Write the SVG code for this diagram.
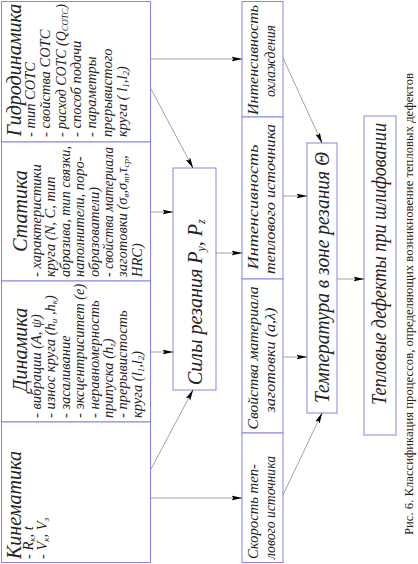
<svg xmlns="http://www.w3.org/2000/svg" width="418" height="564" viewBox="0 0 418 564">
<style>
.box{fill:#fff;stroke:#8585e6;stroke-width:1}
.t{font-family:"Liberation Serif","Times New Roman",serif;font-style:italic;fill:#222}
.ti{font-size:20px}
.b{font-size:14.5px}
.c{font-size:15px}
.cap{font-family:"Liberation Serif","Times New Roman",serif;font-size:12px;fill:#222}
.con{stroke:#999;stroke-width:0.9;fill:none;marker-end:url(#ah)}
</style>
<defs>
<marker id="ah" markerUnits="userSpaceOnUse" markerWidth="11" markerHeight="6" refX="10.5" refY="3" orient="auto">
<path d="M0,0.6 L11,3 L0,5.4 L2,3 Z" fill="#000"/>
</marker>
</defs>
<rect width="418" height="564" fill="#fff"/>

<g id="gidrodinamika">
<rect class="box" x="1.5" y="1.5" width="149" height="140.5"/>
<g transform="rotate(-90)" class="t">
<text class="ti" x="-70" y="21" text-anchor="middle">Гидродинамика</text>
<text class="b" x="-137" y="35">- тип СОТС</text>
<text class="b" x="-137" y="50.3">- свойства СОТС</text>
<text class="b" x="-137" y="65.6" textLength="133" lengthAdjust="spacingAndGlyphs">- расход СОТС (Q<tspan font-size="9" dy="2">СОТС</tspan><tspan dy="-2">)</tspan></text>
<text class="b" x="-137" y="80.9">- способ подачи</text>
<text class="b" x="-137" y="96.2">- параметры</text>
<text class="b" x="-137" y="111.5">прерывистого</text>
<text class="b" x="-137" y="126.8">круга ( l<tspan font-size="9" dy="2">1</tspan><tspan dy="-2">,l</tspan><tspan font-size="9" dy="2">2</tspan><tspan dy="-2">)</tspan></text>
</g>
</g>

<g id="statika">
<rect class="box" x="1.5" y="142" width="149" height="139"/>
<g transform="rotate(-90)" class="t">
<text class="ti" x="-211" y="27" text-anchor="middle">Статика</text>
<text class="b" x="-277" y="41">- характеристики</text>
<text class="b" x="-277" y="55.4">круга (N, C, тип</text>
<text class="b" x="-277" y="69.8" textLength="131" lengthAdjust="spacingAndGlyphs">абразива, тип связки,</text>
<text class="b" x="-277" y="84.2">наполнители, поро-</text>
<text class="b" x="-277" y="98.6">образователи)</text>
<text class="b" x="-277" y="113" textLength="130" lengthAdjust="spacingAndGlyphs">- свойства материала</text>
<text class="b" x="-277" y="127.4">заготовки (σ<tspan font-size="9" dy="2">в</tspan><tspan dy="-2">,σ</tspan><tspan font-size="9" dy="2">т</tspan><tspan dy="-2">,τ</tspan><tspan font-size="9" dy="2">ср</tspan><tspan dy="-2">,</tspan></text>
<text class="b" x="-277" y="141.8">HRC)</text>
</g>
</g>

<g id="dinamika">
<rect class="box" x="1.5" y="281" width="149" height="141"/>
<g transform="rotate(-90)" class="t">
<text class="ti" x="-350" y="27" text-anchor="middle">Динамика</text>
<text class="b" x="-418" y="41">- вибрации (A, ψ)</text>
<text class="b" x="-418" y="55.4">- износ круга (h<tspan font-size="9" dy="2">и</tspan><tspan dy="-2"> ,h</tspan><tspan font-size="9" dy="2">к</tspan><tspan dy="-2">)</tspan></text>
<text class="b" x="-418" y="69.8">- засаливание</text>
<text class="b" x="-418" y="84.2">- эксцентриситет (e)</text>
<text class="b" x="-418" y="98.6">- неравномерность</text>
<text class="b" x="-418" y="113">припуска (h<tspan font-size="9" dy="2">z</tspan><tspan dy="-2">)</tspan></text>
<text class="b" x="-418" y="127.4">- прерывистость</text>
<text class="b" x="-418" y="141.8">круга (l<tspan font-size="9" dy="2">1</tspan><tspan dy="-2">,l</tspan><tspan font-size="9" dy="2">2</tspan><tspan dy="-2">)</tspan></text>
</g>
</g>

<g id="kinematika">
<rect class="box" x="1.5" y="422" width="149" height="140.5"/>
<g transform="rotate(-90)" class="t">
<text class="ti" x="-559" y="21" textLength="108" lengthAdjust="spacingAndGlyphs">Кинематика</text>
<text class="b" x="-559" y="33">- R<tspan font-size="9" dy="2">к</tspan><tspan dy="-2">, t</tspan></text>
<text class="b" x="-559" y="47">- V<tspan font-size="9" dy="2">к</tspan><tspan dy="-2">, V</tspan><tspan font-size="9" dy="2">з</tspan></text>
</g>
</g>

<g id="sily">
<rect class="box" x="173" y="168" width="43" height="222"/>
<g transform="rotate(-90)" class="t">
<text class="ti" x="-385" y="202">Силы резания P<tspan font-size="12" dy="3">y</tspan><tspan dy="-3">, P</tspan><tspan font-size="12" dy="3">z</tspan></text>
</g>
</g>

<g id="intens-ohl">
<rect class="box" x="242" y="1.5" width="41" height="115.5"/>
<g transform="rotate(-90)" class="t c">
<text x="-60" y="258" text-anchor="middle" textLength="110" lengthAdjust="spacingAndGlyphs">Интенсивность</text>
<text x="-61" y="275" text-anchor="middle" textLength="72" lengthAdjust="spacingAndGlyphs">охлаждения</text>
</g>
</g>

<g id="intens-tepl">
<rect class="box" x="242" y="117" width="41" height="162"/>
<g transform="rotate(-90)" class="t c">
<text x="-207" y="258" text-anchor="middle" textLength="125" lengthAdjust="spacingAndGlyphs">Интенсивность</text>
<text x="-199" y="275" text-anchor="middle" textLength="150" lengthAdjust="spacingAndGlyphs">теплового источника</text>
</g>
</g>

<g id="svoystva">
<rect class="box" x="242" y="279" width="41" height="154"/>
<g transform="rotate(-90)" class="t c">
<text x="-358" y="258" text-anchor="middle" textLength="143" lengthAdjust="spacingAndGlyphs">Свойства материала</text>
<text x="-360" y="275" text-anchor="middle" textLength="105" lengthAdjust="spacingAndGlyphs">заготовки (a,λ)</text>
</g>
</g>

<g id="skorost">
<rect class="box" x="242" y="433" width="41" height="129.5"/>
<g transform="rotate(-90)" class="t c">
<text x="-559" y="258" textLength="95" lengthAdjust="spacingAndGlyphs">Скорость теп-</text>
<text x="-559" y="275" textLength="103" lengthAdjust="spacingAndGlyphs">лового источника</text>
</g>
</g>

<g id="temperatura">
<rect class="box" x="307" y="143" width="30" height="270"/>
<g transform="rotate(-90)" class="t">
<text class="ti" x="-403" y="329" textLength="251" lengthAdjust="spacingAndGlyphs">Температура в зоне резания Θ</text>
</g>
</g>

<g id="defekty">
<rect class="box" x="364" y="116" width="32" height="319"/>
<g transform="rotate(-90)" class="t">
<text class="ti" x="-405" y="386" textLength="282" lengthAdjust="spacingAndGlyphs">Тепловые дефекты при шлифовании</text>
</g>
</g>

<g id="connectors">
<line class="con" x1="150.5" y1="59" x2="242" y2="59"/>
<line class="con" x1="150.5" y1="88" x2="193" y2="168"/>
<line class="con" x1="150.5" y1="212" x2="173" y2="212"/>
<line class="con" x1="150.5" y1="352" x2="173" y2="352"/>
<line class="con" x1="150.5" y1="470" x2="193" y2="390"/>
<line class="con" x1="150.5" y1="498" x2="242" y2="498"/>
<line class="con" x1="216" y1="253" x2="242" y2="253"/>
<line class="con" x1="283" y1="58" x2="322" y2="143"/>
<line class="con" x1="283" y1="196" x2="307" y2="196"/>
<line class="con" x1="283" y1="357" x2="307" y2="357"/>
<line class="con" x1="283" y1="495" x2="322" y2="413"/>
<line class="con" x1="337" y1="279" x2="364" y2="279"/>
</g>

<g id="caption" transform="rotate(-90)">
<text class="cap" x="-535" y="413" textLength="462" lengthAdjust="spacingAndGlyphs">Рис. 6. Классификация процессов, определяющих возникновение тепловых дефектов</text>
</g>
</svg>
